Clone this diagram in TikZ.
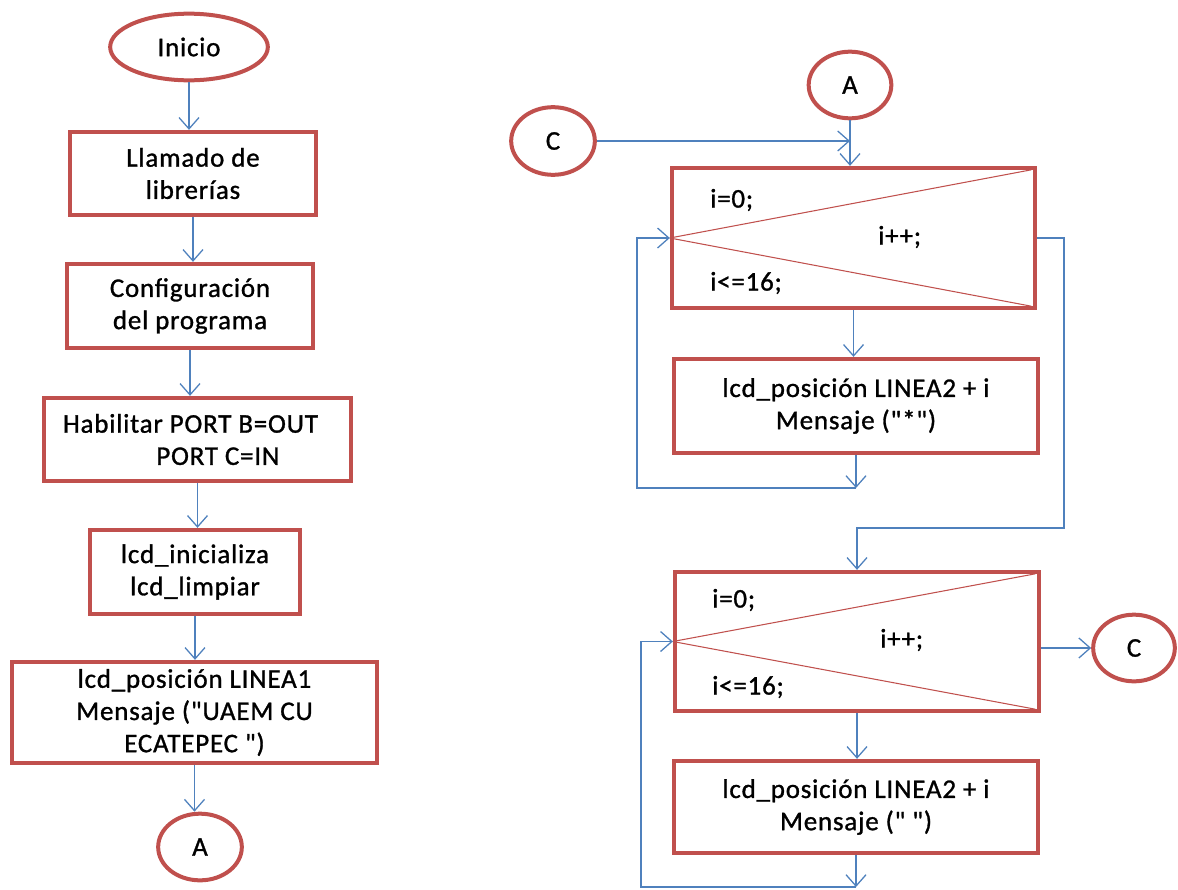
\documentclass[tikz,border=0pt]{standalone}
\usepackage{fontspec}
\setmainfont{Carlito}[Ligatures=TeXOff,LetterSpace=3,FakeBold=1.1]
\usetikzlibrary{shapes.geometric,arrows.meta,calc}
\definecolor{boxred}{RGB}{192,80,77}
\definecolor{flowblue}{RGB}{79,129,189}

\begin{document}
\begin{tikzpicture}[x=0.03cm,y=-0.03cm,
    font=\fontsize{23}{27.5}\selectfont,
    proc/.style={draw=boxred,line width=0.13cm,rectangle,align=center,inner sep=0pt},
    conn/.style={draw=boxred,line width=0.12cm,ellipse,inner sep=0pt,
        minimum width=2.5cm,minimum height=2cm},
    diag/.style={draw=boxred,line width=0.9pt},
    lbl/.style={inner sep=0pt,anchor=west},
    arr/.style={draw=flowblue,line width=1.1pt,-{Straight Barb[length=0.34cm,width=0.6cm]}},
    link/.style={draw=flowblue,line width=1.1pt}]

    \useasboundingbox (0,0) rectangle (1178,889);

    % main program
    \node[conn,minimum width=4.73cm] (inicio) at (189,47) {Inicio};
    \node[proc,minimum width=7.38cm,minimum height=2.49cm] (libs) at (193,173.5)
        {Llamado de\\librerías};
    \node[proc,minimum width=7.38cm,minimum height=2.52cm] (config) at (190,306)
        {Configuración\\del programa};
    \node[proc,minimum width=9.21cm,minimum height=2.49cm,align=left] (ports) at (197.5,439.5)
        {Habilitar PORT B=OUT\hspace*{0.42cm}\\\hspace*{2.8cm}PORT C=IN};
    \node[proc,minimum width=6.3cm,minimum height=2.52cm] (lcdini) at (195,572)
        {lcd\_inicializa\\lcd\_limpiar};
    \node[proc,minimum width=10.95cm,minimum height=3.03cm] (msg1) at (194.5,712.5)
        {lcd\_posición LINEA1\\Mensaje ("UAEM CU\\ECATEPEC ")};
    \node[conn,minimum width=2.51cm] (conA) at (200,847) {A};

    \draw[arr] (inicio) -- (inicio |- libs.north);
    \draw[arr] (libs) -- (libs |- config.north);
    \draw[arr] (config) -- (config |- ports.north);
    \draw[arr] (ports) -- (ports |- lcdini.north);
    \draw[arr] (lcdini) -- (lcdini |- msg1.north);
    \draw[arr] (msg1) -- (msg1 |- conA.north);

    % first loop: fill line 2 with stars
    \node[conn,minimum width=2.48cm] (conA2) at (850,85) {A};
    \node[conn,minimum width=2.51cm,minimum height=2.03cm] (conC) at (553,141) {C};
    \node[proc,minimum width=10.89cm,minimum height=4.2cm] (for1) at (853.5,238) {};
    \draw[diag] (for1.west) -- ($(for1.north east)+(-6,4)$);
    \draw[diag] (for1.west) -- ($(for1.south east)+(-6,-4)$);
    \node[lbl] (f1init) at (710,200) {i=0;};
    \node[lbl] (f1cond) at (710,283) {i<=16;};
    \node[lbl] (f1inc) at (878,237) {i++;};
    \node[proc,minimum width=10.92cm,minimum height=2.82cm] (pos1) at (856,406)
        {lcd\_posición LINEA2 + i\\Mensaje ("*")};
    \coordinate (l1) at (637,488);
    \coordinate (r1) at (1064,528);

    \draw[arr] (conC) -- (conC -| conA2);
    \draw[arr] (conA2) -- (conA2 |- for1.north);
    \draw[arr] (for1) -- (for1 |- pos1.north);
    \draw[arr] (pos1) -- (pos1 |- l1);
    \draw[arr] (pos1 |- l1) -- (l1) |- (for1.west);

    % second loop: clear line 2
    \node[proc,minimum width=10.92cm,minimum height=4.17cm] (for2) at (857,641.5) {};
    \draw[diag] (for2.west) -- ($(for2.north east)+(-6,4)$);
    \draw[diag] (for2.west) -- ($(for2.south east)+(-6,-4)$);
    \node[lbl] (f2init) at (712,600) {i=0;};
    \node[lbl] (f2cond) at (712,687) {i<=16;};
    \node[lbl] (f2inc) at (880,640) {i++;};
    \node[proc,minimum width=10.92cm,minimum height=2.76cm] (pos2) at (856,807)
        {lcd\_posición LINEA2 + i\\Mensaje (" ")};
    \node[conn,minimum width=2.45cm] (conC2) at (1134,648) {C};
    \coordinate (l2) at (641,887);

    \draw[arr] (for1.east) -| (r1) -| (for2.north);
    \draw[arr] (for2.east |- conC2) -- (conC2);
    \draw[arr] (for2) -- (for2 |- pos2.north);
    \draw[arr] (pos2) -- (pos2 |- l2);
    \draw[arr] (pos2 |- l2) -- (l2) |- (for2.west);
\end{tikzpicture}
\end{document}
